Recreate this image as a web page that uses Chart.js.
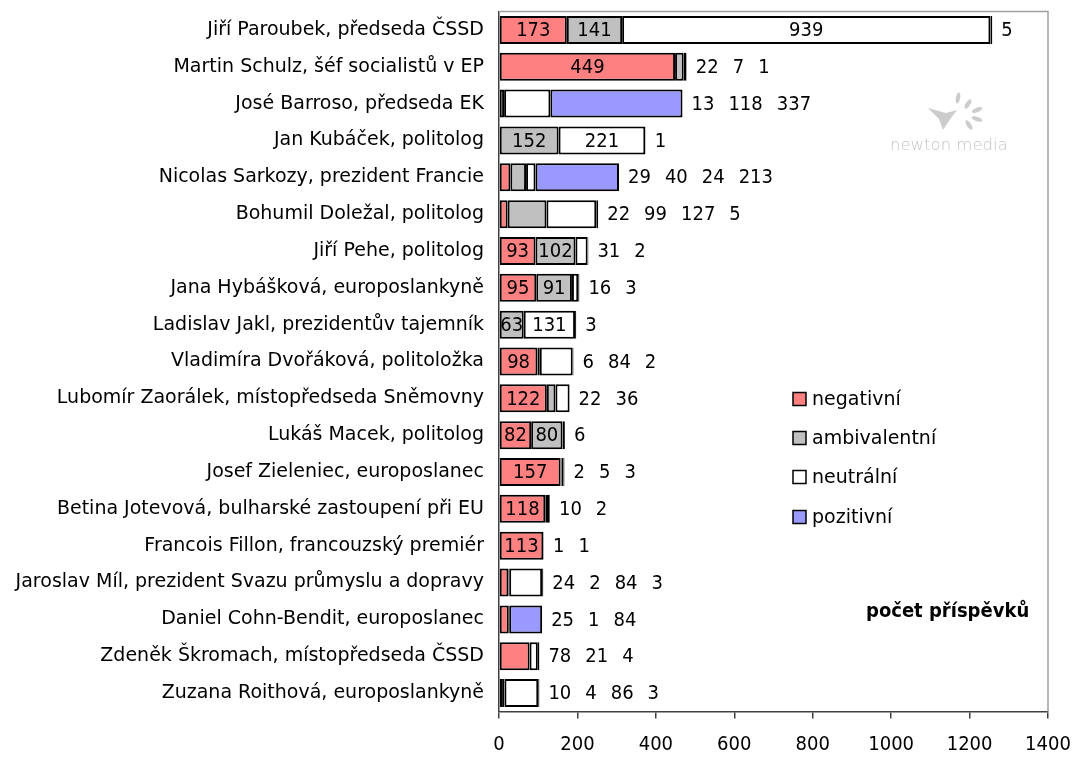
<!DOCTYPE html>
<html>
<head>
<meta charset="utf-8">
<script src="https://cdn.jsdelivr.net/npm/chart.js@4.4.0/dist/chart.umd.min.js"></script>
<style>
  html, body { margin: 0; padding: 0; background: #fff; }
  #wrap { width: 1074px; height: 758px; position: relative; }
</style>
</head>
<body>
<div id="wrap"><canvas id="c" width="1074" height="758"></canvas></div>
<script>
// Mediální obraz osobností: počet příspěvků podle vyznění
const categories = [
  'Jiří Paroubek, předseda ČSSD',
  'Martin Schulz, šéf socialistů v EP',
  'José Barroso, předseda EK',
  'Jan Kubáček, politolog',
  'Nicolas Sarkozy, prezident Francie',
  'Bohumil Doležal, politolog',
  'Jiří Pehe, politolog',
  'Jana Hybášková, europoslankyně',
  'Ladislav Jakl, prezidentův tajemník',
  'Vladimíra Dvořáková, politoložka',
  'Lubomír Zaorálek, místopředseda Sněmovny',
  'Lukáš Macek, politolog',
  'Josef Zieleniec, europoslanec',
  'Betina Jotevová, bulharské zastoupení při EU',
  'Francois Fillon, francouzský premiér',
  'Jaroslav Míl, prezident Svazu průmyslu a dopravy',
  'Daniel Cohn-Bendit, europoslanec',
  'Zdeněk Škromach, místopředseda ČSSD',
  'Zuzana Roithová, europoslankyně'
];
const negativni    = [173, 449,   0,   0,  29,  22,  93, 95,   0, 98, 122, 82, 157, 118, 113, 24, 25, 78, 10];
const ambivalentni = [141,  22,  13, 152,  40,  99, 102, 91,  63,  6,  22, 80,   2,  10,   1,  2,  1,  0,  4];
const neutralni    = [939,   7, 118, 221,  24, 127,  31, 16, 131, 84,  36,  6,   5,   2,   1, 84,  0, 21, 86];
const pozitivni    = [  5,   1, 337,   1, 213,   5,   2,  3,   3,  2,   0,  0,   3,   0,   0,  3, 84,  4,  3];
// kolik hodnot (od začátku řádku) je popsáno uvnitř pruhu, zbytek je za ním
const popiskyUvnitr = [3, 1, 0, 2, 0, 0, 2, 2, 2, 1, 1, 2, 1, 1, 1, 0, 0, 0, 0];
const xTicks = [0, 200, 400, 600, 800, 1000, 1200, 1400];

const seriesNames  = ['negativní', 'ambivalentní', 'neutrální', 'pozitivní'];
const seriesValues = [negativni, ambivalentni, neutralni, pozitivni];
const seriesColors = ['#FF8080', '#C0C0C0', '#FFFFFF', '#9999FF'];

const NUM_FONT = '"DejaVu Sans Condensed", "DejaVu Sans", sans-serif';
const TXT_FONT = '"DejaVu Sans", sans-serif';
const FS = 19;
const NFS = 20;

const datasets = seriesValues.map((vals, i) => ({
  label: seriesNames[i],
  data: vals.map(v => (v === 0 ? null : v)),
  backgroundColor: seriesColors[i],
  borderColor: '#000',
  borderWidth: 2,
  borderSkipped: false,
  categoryPercentage: 1,
  barPercentage: 0.76
}));

// popisky hodnot: uvnitř segmentů a za koncem pruhu
const valueLabels = {
  id: 'valueLabels',
  afterDatasetsDraw(chart) {
    const ctx = chart.ctx;
    ctx.save();
    ctx.font = NFS + 'px ' + NUM_FONT;
    ctx.fillStyle = '#000';
    ctx.textBaseline = 'middle';
    categories.forEach((cat, row) => {
      const segs = [];
      seriesValues.forEach((vals, s) => {
        if (vals[row]) segs.push({ v: vals[row], el: chart.getDatasetMeta(s).data[row] });
      });
      let endX = 0, y = 0;
      segs.forEach(sg => { endX = Math.max(endX, sg.el.x); y = sg.el.y; });
      const nIn = popiskyUvnitr[row];
      let x = endX + 9;
      segs.forEach((sg, k) => {
        const txt = String(sg.v);
        if (k < nIn) {
          ctx.textAlign = 'center';
          ctx.fillText(txt, (sg.el.base + sg.el.x) / 2, y + 1);
        } else {
          ctx.textAlign = 'left';
          ctx.fillText(txt, x, y + 1);
          x += ctx.measureText(txt).width + 14;
        }
      });
    });
    ctx.restore();
  }
};

// rámeček grafu, legenda, popisek osy a logo
const decorations = {
  id: 'decorations',
  beforeDatasetsDraw(chart) {
    const { ctx, chartArea: a } = chart;
    ctx.save();
    ctx.strokeStyle = '#A0A0A0';
    ctx.lineWidth = 1.5;
    ctx.beginPath();
    ctx.moveTo(a.left, a.top);
    ctx.lineTo(a.right, a.top);
    ctx.lineTo(a.right, a.bottom);
    ctx.stroke();

    // logo newton media
    ctx.fillStyle = '#C4C4C4';
    ctx.font = '200 16.5px "DejaVu Sans", sans-serif';
    ctx.textAlign = 'left';
    ctx.textBaseline = 'middle';
    ctx.fillText('newton media', 890, 146);
    ctx.fillStyle = '#CCCCCC';
    const petals = [[968, 104, -1.0], [977, 110, -0.4], [977, 119, 0.3], [969, 125, 1.0], [958, 98, -1.4]];
    petals.forEach(([px, py, r]) => {
      ctx.beginPath();
      ctx.ellipse(px, py, 5.5, 2.2, r, 0, Math.PI * 2);
      ctx.fill();
    });
    ctx.beginPath();
    ctx.moveTo(928, 108);
    ctx.lineTo(946, 113);
    ctx.lineTo(957, 110);
    ctx.lineTo(951, 118);
    ctx.lineTo(943, 130);
    ctx.lineTo(939, 119);
    ctx.closePath();
    ctx.fill();
    ctx.restore();
  },
  afterDraw(chart) {
    const ctx = chart.ctx;
    ctx.save();
    ctx.font = FS + 'px ' + TXT_FONT;
    ctx.textBaseline = 'middle';
    ctx.textAlign = 'left';
    const ys = [399, 438, 477, 517];
    seriesNames.forEach((n, i) => {
      ctx.fillStyle = seriesColors[i];
      ctx.fillRect(793, ys[i] - 6.5, 13, 13);
      ctx.strokeStyle = '#000';
      ctx.lineWidth = 1.5;
      ctx.strokeRect(793, ys[i] - 6.5, 13, 13);
      ctx.fillStyle = '#000';
      ctx.fillText(n, 812, ys[i] + 1);
    });
    ctx.font = 'bold 20px ' + NUM_FONT;
    ctx.fillText('počet příspěvků', 866, 612);
    ctx.restore();
  }
};

new Chart(document.getElementById('c'), {
  type: 'bar',
  data: { labels: categories, datasets },
  options: {
    indexAxis: 'y',
    responsive: false,
    animation: false,
    layout: { padding: { top: 11.5, right: 26, bottom: 0, left: 0 } },
    plugins: { legend: { display: false }, tooltip: { enabled: false } },
    scales: {
      x: {
        stacked: true,
        min: 0,
        max: 1400,
        afterBuildTicks(scale) { scale.ticks = xTicks.map(v => ({ value: v })); },
        afterFit(scale) {
          scale.height = 46.5;
          scale.paddingLeft = 0;
          scale.paddingRight = 0;
        },
        grid: { drawOnChartArea: false, drawTicks: true, tickLength: 7, color: '#404040', lineWidth: 1.5 },
        border: { display: true, color: '#404040', width: 1.5 },
        ticks: {
          color: '#000',
          font: { family: NUM_FONT, size: NFS },
          padding: 14,
          maxRotation: 0,
          callback: v => String(v)
        }
      },
      y: {
        stacked: true,
        afterFit(scale) {
          scale.width = 499;
          scale.paddingTop = 0;
          scale.paddingBottom = 0;
        },
        grid: { display: false },
        border: { display: true, color: '#404040', width: 1.5 },
        ticks: { color: '#000', font: { family: TXT_FONT, size: FS }, padding: 7, autoSkip: false }
      }
    }
  },
  plugins: [decorations, valueLabels]
});
</script>
</body>
</html>
